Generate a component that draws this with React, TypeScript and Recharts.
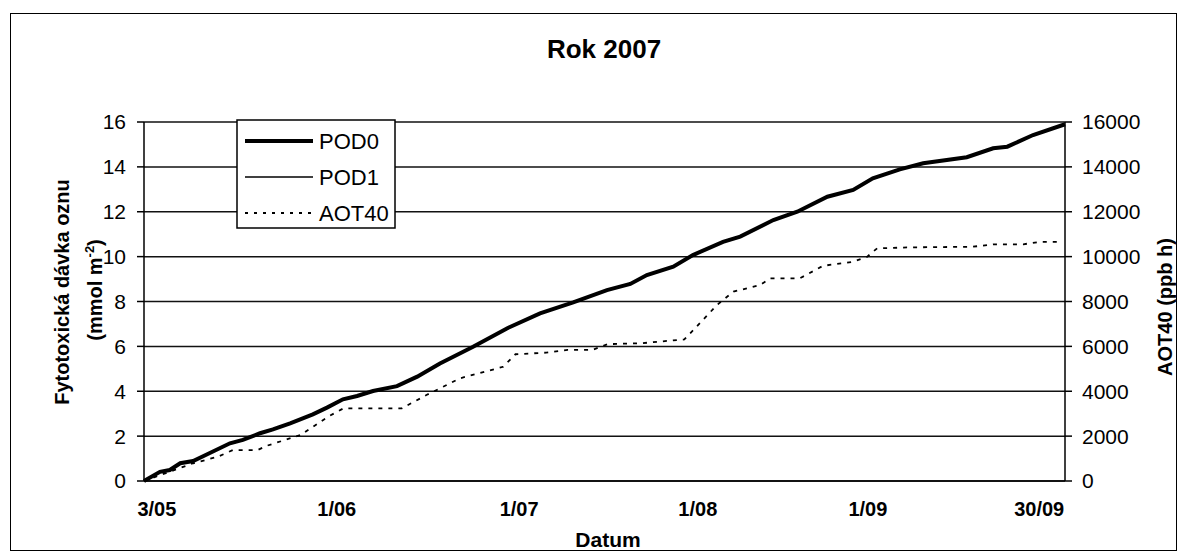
import { CartesianGrid, Line, LineChart, XAxis, YAxis } from "recharts";

const FONT = '"Liberation Sans", Arial, sans-serif';

// day index counted from 3 May
const POD0_DAYS = [0, 2.6, 4.2, 5.9, 8, 10.3, 14, 16.1, 18.9, 21, 23.8, 27.5, 29.8, 32.4, 34.7, 37.3, 41.2, 44.5, 48.2, 53.6, 59.1, 64.5, 69.9, 75.4, 79.2, 81.9, 86.2, 89.4, 94.3, 97.1, 102.5, 106.4, 111.3, 115.5, 118.7, 123.1, 126.9, 134, 138.3, 140.6, 144.8, 150];
const POD0_VALUES = [0, 0.41, 0.49, 0.79, 0.89, 1.19, 1.68, 1.83, 2.13, 2.3, 2.57, 2.97, 3.27, 3.64, 3.79, 4.01, 4.23, 4.65, 5.24, 5.98, 6.8, 7.47, 7.96, 8.51, 8.78, 9.18, 9.55, 10.07, 10.66, 10.89, 11.63, 12.0, 12.67, 12.97, 13.49, 13.89, 14.16, 14.43, 14.83, 14.9, 15.42, 15.9];

const AOT40_DAYS = [0, 8, 12, 14.5, 18.5, 20, 25.5, 30, 32.5, 42, 46, 51.5, 58.5, 60.5, 65.5, 69, 73, 75.5, 81, 88, 90, 93.3, 96, 100.3, 102, 106.8, 110.6, 115.5, 117.8, 119.4, 124.3, 135, 138.3, 143.2, 146, 149.5];
const AOT40_VALUES = [0, 790, 1080, 1380, 1380, 1570, 2050, 2870, 3240, 3240, 3830, 4580, 5090, 5650, 5720, 5840, 5840, 6100, 6140, 6310, 6880, 7840, 8440, 8730, 9030, 9030, 9590, 9770, 10000, 10370, 10410, 10440, 10550, 10550, 10660, 10660];

const X_TICKS = [2.1, 31.4, 61.1, 90.2, 117.9, 145.8];
const X_LABELS = ["3/05", "1/06", "1/07", "1/08", "1/09", "30/09"];
const LEFT_TICKS = [0, 2, 4, 6, 8, 10, 12, 14, 16];
const RIGHT_TICKS = [0, 2000, 4000, 6000, 8000, 10000, 12000, 14000, 16000];

const LEGEND = [
  { name: "POD0", width: 4, dash: undefined },
  { name: "POD1", width: 1.5, dash: undefined },
  { name: "AOT40", width: 1.8, dash: "3 6" },
];

const pod0 = POD0_DAYS.map((d, i) => ({ day: d, pod0: POD0_VALUES[i] }));
const aot40 = AOT40_DAYS.map((d, i) => ({ day: d, aot40: AOT40_VALUES[i] }));

const tickStyle = { fill: "#000", fontSize: 21, fontFamily: FONT };

export default function App() {
  return (
    <div style={{ position: "relative", width: 1188, height: 552, fontFamily: FONT, background: "#fff" }}>
      <style>{"body{margin:0}"}</style>
      <div
        style={{
          position: "absolute",
          left: 10,
          top: 13,
          width: 1167,
          height: 538,
          border: "1.5px solid #000",
          boxSizing: "border-box",
        }}
      />
      <LineChart width={1188} height={552} margin={{ top: 122, right: 0, bottom: 0, left: 0 }} style={{ position: "absolute", left: 0, top: 0 }}>
        <CartesianGrid yAxisId="left" vertical={false} stroke="#111" strokeWidth={1.5} />
        <XAxis
          dataKey="day"
          type="number"
          domain={[0, 150]}
          ticks={X_TICKS}
          interval={0}
          tickFormatter={(v) => X_LABELS[X_TICKS.indexOf(v)] ?? ""}
          tick={{ ...tickStyle, fontSize: 20, fontWeight: "bold" }}
          tickLine={false}
          tickSize={0}
          tickMargin={21}
          axisLine={{ stroke: "#000", strokeWidth: 1.5 }}
          height={71}
        />
        <YAxis
          yAxisId="left"
          domain={[0, 16]}
          ticks={LEFT_TICKS}
          interval={0}
          width={144}
          tick={tickStyle}
          tickSize={7}
          tickMargin={11}
          tickLine={{ stroke: "#000", strokeWidth: 1.5 }}
          axisLine={{ stroke: "#000", strokeWidth: 1.5 }}
        />
        <YAxis
          yAxisId="right"
          orientation="right"
          domain={[0, 16000]}
          ticks={RIGHT_TICKS}
          interval={0}
          width={123}
          tick={tickStyle}
          tickSize={7}
          tickMargin={10}
          tickLine={{ stroke: "#000", strokeWidth: 1.5 }}
          axisLine={{ stroke: "#000", strokeWidth: 1.5 }}
        />
        <Line
          yAxisId="right"
          data={aot40}
          dataKey="aot40"
          type="linear"
          stroke="#000"
          strokeWidth={1.8}
          strokeDasharray="4 6"
          dot={false}
          isAnimationActive={false}
        />
        <Line
          yAxisId="left"
          data={pod0}
          dataKey="pod0"
          type="linear"
          stroke="#000"
          strokeWidth={4}
          dot={false}
          isAnimationActive={false}
        />
      </LineChart>
      <svg width={1188} height={552} style={{ position: "absolute", left: 0, top: 0, pointerEvents: "none" }} fontFamily={FONT}>
        <text x={604} y={58} textAnchor="middle" fontWeight="bold" fontSize={26} fill="#000">
          Rok 2007
        </text>
        <text x={608} y={547} textAnchor="middle" fontWeight="bold" fontSize={21} fill="#000">
          Datum
        </text>
        <text transform="translate(69,292) rotate(-90)" textAnchor="middle" fontWeight="bold" fontSize={20} fill="#000">
          Fytotoxická dávka oznu
        </text>
        <text transform="translate(102,290) rotate(-90)" textAnchor="middle" fontWeight="bold" fontSize={20} fill="#000">
          (mmol m<tspan fontSize={13} dy={-8}>-2</tspan>
          <tspan dy={8}>)</tspan>
        </text>
        <text transform="translate(1172,307) rotate(-90)" textAnchor="middle" fontWeight="bold" fontSize={20} fill="#000">
          AOT40 (ppb h)
        </text>
        <rect x={237} y={120} width={158} height={108} fill="#fff" stroke="#000" strokeWidth={1.5} />
        {LEGEND.map((s, i) => {
          const y = 141 + i * 36;
          return (
            <g key={s.name}>
              <line x1={245} x2={313} y1={y} y2={y} stroke="#000" strokeWidth={s.width} strokeDasharray={s.dash} />
              <text x={319} y={y + 8} fontSize={22} fill="#000">
                {s.name}
              </text>
            </g>
          );
        })}
      </svg>
    </div>
  );
}
